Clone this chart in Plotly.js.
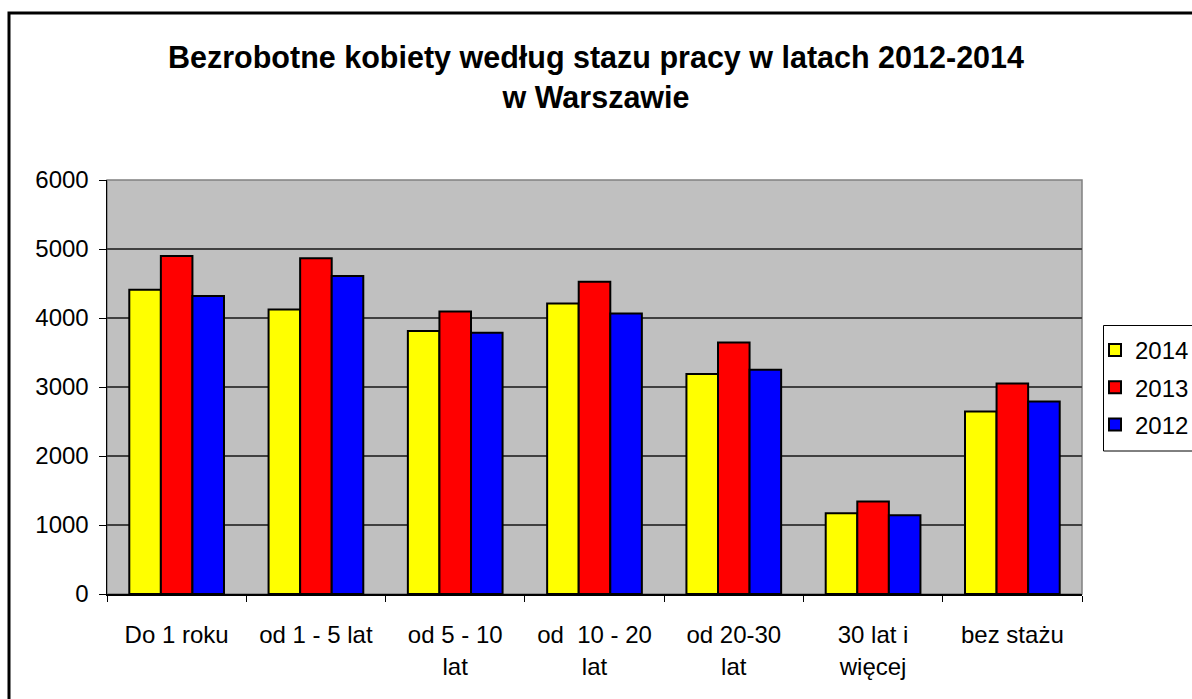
<!DOCTYPE html>
<html>
<head>
<meta charset="utf-8">
<script src="https://cdn.plot.ly/plotly-3.0.1.min.js"></script>
<style>html,body{margin:0;padding:0;background:#fff;}</style>
</head>
<body>
<div id="chart" style="width:1192px;height:699px;"></div>
<script>
var categories = ["Do 1 roku", "od 1 - 5 lat", "od 5 - 10<br>lat", "od\u00a0 10 - 20<br>lat", "od 20-30<br>lat", "30 lat i<br>więcej", "bez stażu"];
var series2014 = [4410, 4125, 3810, 4210, 3190, 1170, 2645];
var series2013 = [4900, 4865, 4095, 4525, 3645, 1340, 3050];
var series2012 = [4320, 4610, 3785, 4065, 3250, 1140, 2790];
var seriesNames = ["2014", "2013", "2012"];
var seriesColors = ["#FFFF00", "#FF0000", "#0000FF"];
var yTicks = [0, 1000, 2000, 3000, 4000, 5000, 6000];

var font = "Liberation Sans, Arial, sans-serif";
var allSeries = [series2014, series2013, series2012];
var data = allSeries.map(function (vals, i) {
  return {
    type: "bar",
    name: seriesNames[i],
    x: categories,
    y: vals,
    legendgroup: "g" + i,
    marker: { color: seriesColors[i], line: { color: "#000", width: 2 } },
    hoverinfo: "x+y+name"
  };
});

var W = 1192, H = 699, L = 107, R = 1082, T = 180, B = 594;
function px(x) { return (x - L) / (R - L); }
function py(y) { return (B - y) / (B - T); }

var layout = {
  width: W, height: H,
  margin: { l: L, r: W - R, t: T, b: H - B, pad: 0, autoexpand: false },
  paper_bgcolor: "#ffffff",
  plot_bgcolor: "#C0C0C0",
  barmode: "group",
  bargap: 0.32,
  bargroupgap: 0,
  title: {
    text: "<b>Bezrobotne kobiety według stazu pracy w latach 2012-2014<br>w Warszawie</b>",
    font: { family: font, size: 30.5, color: "#000" },
    x: 0.5, xanchor: "center",
    y: 1 - 68 / H, yanchor: "top", yref: "container"
  },
  font: { family: font, size: 24, color: "#000" },
  xaxis: {
    type: "category",
    showline: true, linecolor: "#000", linewidth: 1.5,
    ticks: "outside", tickson: "boundaries", ticklen: 6, tickcolor: "#000", tickwidth: 1,
    tickfont: { family: font, size: 24, color: "#000" },
    ticklabelstandoff: 19,
    showgrid: false, zeroline: false, fixedrange: true, automargin: false
  },
  yaxis: {
    range: [0, 6000],
    tickvals: yTicks,
    ticktext: yTicks.map(String),
    showline: true, linecolor: "#000", linewidth: 1.5,
    ticks: "outside", ticklen: 7, tickcolor: "#000", tickwidth: 1,
    tickfont: { family: font, size: 24, color: "#000" },
    ticklabelstandoff: 5,
    showgrid: true, gridcolor: "#404040", gridwidth: 1.5,
    zeroline: false, fixedrange: true, automargin: false
  },
  legend: {
    x: px(1095), xanchor: "left",
    y: py(328), yanchor: "top",
    bgcolor: "rgba(0,0,0,0)",
    borderwidth: 0,
    font: { family: font, size: 24, color: "#000" },
    traceorder: "grouped",
    tracegroupgap: 3,
    itemwidth: 30
  },
  shapes: [
    { type: "rect", xref: "paper", yref: "paper", x0: px(9), x1: px(1205), y0: py(715), y1: py(13),
      line: { color: "#000", width: 3 }, fillcolor: "rgba(0,0,0,0)", layer: "above" },
    { type: "rect", xref: "paper", yref: "paper", x0: 0, x1: 1, y0: 0, y1: 1,
      line: { color: "#808080", width: 1.5 }, fillcolor: "rgba(0,0,0,0)", layer: "below" },
    { type: "rect", xref: "paper", yref: "paper", x0: px(1103.5), x1: px(1220), y0: py(451), y1: py(325.5),
      line: { color: "#000", width: 1 }, fillcolor: "#ffffff", layer: "above" }
  ],
  showlegend: true
};

Plotly.newPlot("chart", data, layout, { displayModeBar: false, staticPlot: true });
</script>
</body>
</html>
